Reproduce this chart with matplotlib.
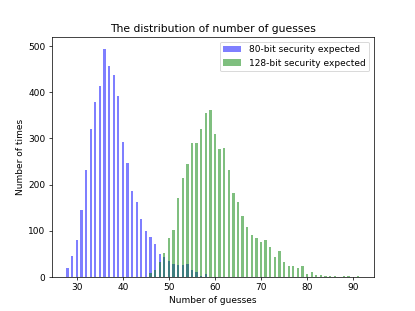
import matplotlib
matplotlib.use("Agg")
import matplotlib.pyplot as plt

# guesses -> count
guesses_80 = list(range(28, 59))
counts_80 = [20, 45, 80, 145, 232, 321, 378, 413, 495, 457, 438, 393, 293, 246,
             186, 162, 125, 99, 86, 70, 50, 43, 35, 28, 26, 25, 27, 15, 11, 2, 6]

guesses_128 = list(range(46, 92))
counts_128 = [9, 15, 33, 51, 85, 102, 171, 215, 245, 291, 291, 321, 356, 361,
              310, 278, 280, 231, 182, 163, 132, 107, 90, 83, 76, 80, 64, 43,
              56, 32, 24, 24, 20, 23, 7, 11, 4, 4, 2, 1, 1, 0, 1, 1, 0, 1]

fig = plt.figure(figsize=(6.4, 4.8), dpi=415 / 6.4)
plt.bar(guesses_80, counts_80, width=0.5, color='blue', alpha=0.5,
        label='80-bit security expected')
plt.bar(guesses_128, counts_128, width=0.5, color='green', alpha=0.5,
        label='128-bit security expected')
plt.title('The distribution of number of guesses')
plt.xlabel('Number of guesses')
plt.ylabel('Number of times')
plt.legend(loc='upper right')
fig.savefig('out.png', dpi=415 / 6.4)
